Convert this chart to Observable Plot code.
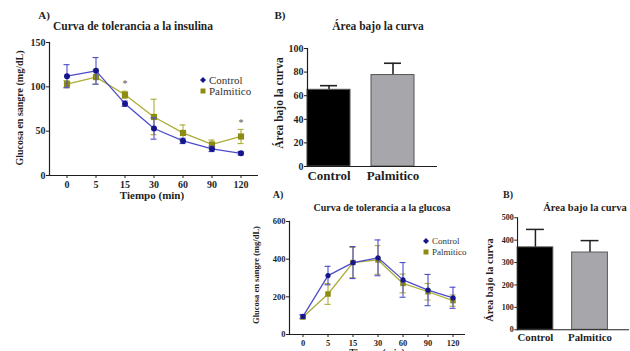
<!DOCTYPE html>
<html>
<head>
<meta charset="utf-8">
<script src="https://cdn.jsdelivr.net/npm/d3@7"></script>
<script src="https://cdn.jsdelivr.net/npm/@observablehq/plot@0.6"></script>
<style>
  html, body { margin: 0; padding: 0; background: #fff; }
  #root { position: relative; width: 630px; height: 351px; overflow: hidden; background: #fff;
          font-family: "Liberation Serif", "DejaVu Serif", serif; color: #1a1a1a; }
  .panel { position: absolute; }
  .panel svg { display: block; overflow: visible; }
  .lbl { position: absolute; white-space: nowrap; line-height: 1; }
</style>
</head>
<body>
<div id="root"></div>
<script>
// ---------- data ----------
const times = ["0", "5", "15", "30", "60", "90", "120"];

// Insulin tolerance curve (mg/dL)
const itControlMean = [112, 118, 81, 53, 39, 30, 25];
const itControlErr  = [13, 15, 3, 12, 3, 3, 2];
const itPalmMean    = [103, 111, 91, 66, 48, 35, 44];
const itPalmErr     = [4, 8, 4, 20, 9, 5, 8];
const itStars       = ["15", "120"];

// Glucose tolerance curve (mg/dL)
const gtControlMean = [96, 313, 382, 407, 290, 236, 195];
const gtControlErr  = [10, 49, 85, 95, 92, 83, 56];
const gtPalmMean    = [93, 215, 382, 396, 271, 227, 180];
const gtPalmErr     = [10, 55, 80, 76, 50, 44, 30];

// Area under the curve
const groups     = ["Control", "Palmitico"];
const aucInsMean = [65, 77.5];
const aucInsErr  = [3.5, 10];
const aucGluMean = [368, 345];
const aucGluErr  = [80, 53];

const insTicks = [0, 50, 100, 150];
const gluTicks = [0, 200, 400, 600];
const aucInsTicks = [0, 20, 40, 60, 80, 100];
const aucGluTicks = [0, 100, 200, 300, 400, 500];

// ---------- styles ----------
const FONT = '"Liberation Serif", "DejaVu Serif", serif';
const INK = "#1f1f1f";
const C_DOT = "#16168c", C_LINE = "#4d4dcc";
const P_DOT = "#8c8c12", P_LINE = "#acac38";
const BAR_COLORS = ["#000000", "#a7a7ab"];

const root = document.getElementById("root");

function place(node, left, top) {
  const d = document.createElement("div");
  d.className = "panel";
  d.style.left = left + "px";
  d.style.top = top + "px";
  d.appendChild(node);
  root.appendChild(d);
}
function label(text, x, y, size, opts = {}) {
  const d = document.createElement("div");
  d.className = "lbl";
  d.textContent = text;
  d.style.left = x + "px";
  d.style.top = y + "px";
  d.style.fontSize = size + "px";
  d.style.fontWeight = opts.weight || "bold";
  d.style.color = opts.color || INK;
  const rot = opts.rotate ? " rotate(-90deg)" : "";
  d.style.transform = (opts.left ? "translate(0,-50%)" : "translate(-50%,-50%)") + rot;
  root.appendChild(d);
}
function legend(x, y, size, gap) {
  const items = [["Control", C_DOT, "diamond"], ["Palmitico", P_DOT, "square"]];
  items.forEach(([name, col, sym], i) => {
    const s = document.createElementNS("http://www.w3.org/2000/svg", "svg");
    s.setAttribute("width", 8); s.setAttribute("height", 8);
    s.style.position = "absolute";
    s.style.left = (x - 4) + "px";
    s.style.top = (y + i * gap - 4) + "px";
    const p = document.createElementNS("http://www.w3.org/2000/svg", "path");
    p.setAttribute("d", sym === "diamond" ? "M4,1L7,4L4,7L1,4Z" : "M1.5,1.5H6.5V6.5H1.5Z");
    p.setAttribute("fill", col);
    s.appendChild(p);
    root.appendChild(s);
    label(name, x + 6, y + i * gap, size, {weight: "normal", left: true, color: "#333"});
  });
}

function rowsOf(means, errs) {
  return times.map((t, i) => ({t, m: means[i], e: errs[i]}));
}

function curvePlot({width, height, margins, yDomain, yTicks, control, palm, stars, fontSize, capInset, r}) {
  const series = [
    {rows: palm, dot: P_DOT, line: P_LINE, symbol: "square", r: r + 0.5},
    {rows: control, dot: C_DOT, line: C_LINE, symbol: "circle", r: r}
  ];
  const marks = [
    Plot.frame({anchor: "left", stroke: INK, strokeWidth: 1.2}),
    Plot.ruleY([yDomain[0]], {stroke: INK, strokeWidth: 1.2})
  ];
  for (const s of series) {
    marks.push(
      Plot.line(s.rows, {x: "t", y: "m", stroke: s.line, strokeWidth: 1.3}),
      Plot.ruleX(s.rows, {x: "t", y1: d => d.m - d.e, y2: d => d.m + d.e, stroke: s.line, strokeWidth: 1.1}),
      Plot.tickY(s.rows, {x: "t", y: d => d.m + d.e, stroke: s.line, strokeWidth: 1.1, insetLeft: capInset, insetRight: capInset}),
      Plot.tickY(s.rows, {x: "t", y: d => d.m - d.e, stroke: s.line, strokeWidth: 1.1, insetLeft: capInset, insetRight: capInset}),
      Plot.dot(s.rows, {x: "t", y: "m", fill: s.dot, symbol: s.symbol, r: s.r})
    );
  }
  if (stars) {
    marks.push(Plot.text(stars, {x: "t", y: d => d.m + d.e, text: () => "*", dy: -7, fontSize: 10, fill: "#555", fontWeight: "normal"}));
  }
  marks.push(
    Plot.axisX({tickSize: 3, tickPadding: 2, label: null, stroke: INK, fill: INK}),
    Plot.axisY({ticks: yTicks, tickSize: 3, tickPadding: 1, label: null, stroke: INK, fill: INK})
  );
  return Plot.plot({
    width, height, ...margins,
    style: {fontFamily: FONT, fontSize: fontSize + "px", fontWeight: "bold", color: INK, background: "transparent"},
    x: {type: "band", domain: times, padding: 0, label: null},
    y: {domain: yDomain, label: null},
    marks
  });
}

function barPlot({width, height, margins, yDomain, yTicks, means, errs, fontSize, xFontSize, padInner, padOuter, capInset}) {
  const rows = groups.map((g, i) => ({g, m: means[i], e: errs[i]}));
  return Plot.plot({
    width, height, ...margins,
    style: {fontFamily: FONT, fontSize: fontSize + "px", fontWeight: "bold", color: INK, background: "transparent"},
    x: {type: "band", domain: groups, paddingInner: padInner, paddingOuter: padOuter, align: 0, label: null},
    y: {domain: yDomain, label: null},
    color: {domain: groups, range: BAR_COLORS},
    marks: [
      Plot.ruleX(rows, {x: "g", y1: "m", y2: d => d.m + d.e, stroke: "#222", strokeWidth: 1.6}),
      Plot.tickY(rows, {x: "g", y: d => d.m + d.e, stroke: "#222", strokeWidth: 1.6, insetLeft: capInset, insetRight: capInset}),
      Plot.barY(rows, {x: "g", y: "m", fill: "g", stroke: "#555", strokeWidth: 1}),
      Plot.frame({anchor: "left", stroke: INK, strokeWidth: 1.2}),
      Plot.ruleY([0], {stroke: INK, strokeWidth: 1.2}),
      Plot.axisX({tickSize: 0, tickPadding: 4, label: null, fontSize: xFontSize, fill: INK}),
      Plot.axisY({ticks: yTicks, tickSize: 3, tickPadding: 1, label: null, stroke: INK, fill: INK})
    ]
  });
}

// ---------- Panel 1: insulin tolerance ----------
const itControl = rowsOf(itControlMean, itControlErr);
const itPalm = rowsOf(itPalmMean, itPalmErr);
place(curvePlot({
  width: 270, height: 200,
  margins: {marginLeft: 49, marginRight: 12, marginTop: 42, marginBottom: 25},
  yDomain: [0, 150], yTicks: insTicks,
  control: itControl, palm: itPalm,
  stars: itPalm.filter(d => itStars.includes(d.t)),
  fontSize: 10, capInset: 11.5, r: 3
}), 0, 0);
label("A)", 44, 15, 11);
label("Curva de tolerancia a la insulina", 133, 27, 11.5);
label("Tiempo (min)", 152, 195, 11);
label("Glucosa en sangre (mg/dL)", 20, 108, 10, {rotate: true});
legend(203, 80, 11, 10.5);

// ---------- Panel 2: AUC insulin ----------
place(barPlot({
  width: 190, height: 200,
  margins: {marginLeft: 47, marginRight: 13, marginTop: 48, marginBottom: 34},
  yDomain: [0, 100], yTicks: aucInsTicks,
  means: aucInsMean, errs: aucInsErr,
  fontSize: 10, xFontSize: 13, padInner: 0.33, padOuter: 0.167, capInset: 13
}), 260, 0);
label("B)", 280, 15, 11);
label("Área bajo la curva", 378, 27, 11.5);
label("Área bajo la curva", 280, 103, 11.5, {rotate: true});

// ---------- Panel 3: glucose tolerance ----------
const gtControl = rowsOf(gtControlMean, gtControlErr);
const gtPalm = rowsOf(gtPalmMean, gtPalmErr);
place(curvePlot({
  width: 230, height: 161,
  margins: {marginLeft: 49, marginRight: 5, marginTop: 31, marginBottom: 17},
  yDomain: [0, 600], yTicks: gluTicks,
  control: gtControl, palm: gtPalm,
  stars: null,
  fontSize: 8.5, capInset: 9.5, r: 2.6
}), 240, 190);
label("A)", 278, 195, 10);
label("Curva de tolerancia a la glucosa", 382, 208, 10);
label("Tiempo (min)", 377, 354, 9.5);
label("Glucosa en sangre (mg/dL)", 256, 275, 8.5, {rotate: true});
legend(426, 241, 9, 11);

// ---------- Panel 4: AUC glucose ----------
place(barPlot({
  width: 170, height: 161,
  margins: {marginLeft: 50, marginRight: 1, marginTop: 29, marginBottom: 13},
  yDomain: [0, 500], yTicks: aucGluTicks,
  means: aucGluMean, errs: aucGluErr,
  fontSize: 8.5, xFontSize: 11.5, padInner: 0.34, padOuter: 0.19, capInset: 9.5
}), 470, 190);
label("B)", 508, 195, 10);
label("Área bajo la curva", 585, 208, 10.5);
label("Área bajo la curva", 490, 280, 10.5, {rotate: true});
</script>
</body>
</html>
